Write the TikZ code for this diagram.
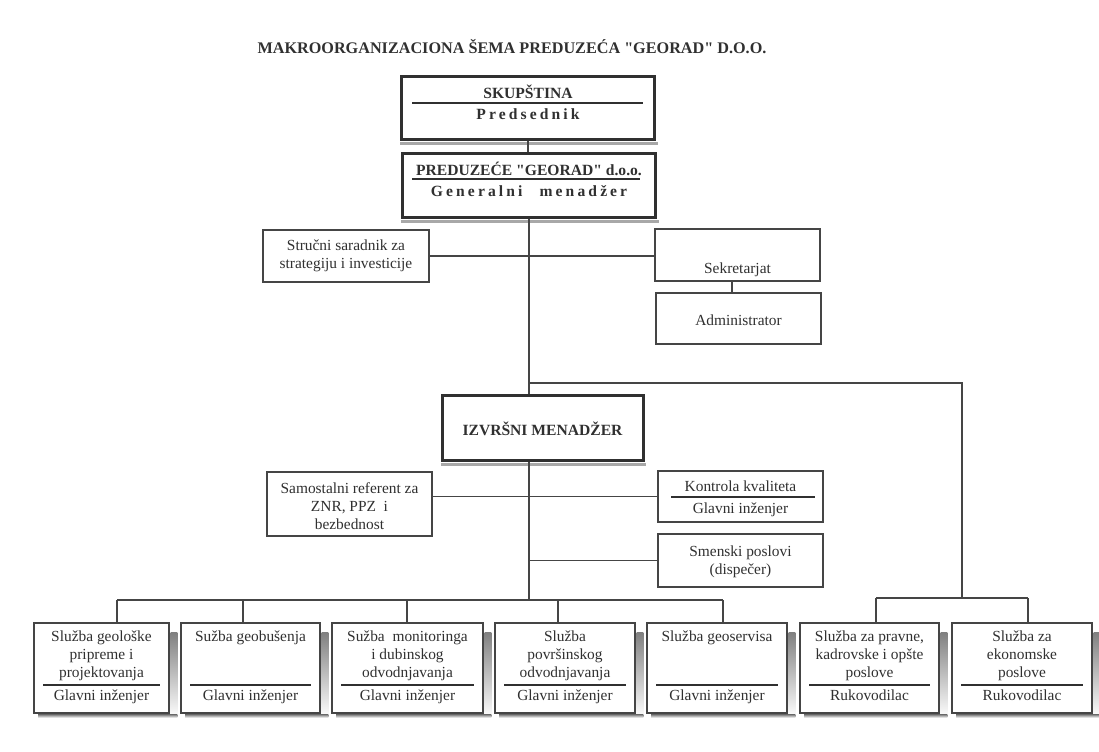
\documentclass[tikz,border=0pt]{standalone}
\usepackage{fontspec}
\setmainfont{Liberation Serif}
\newfontfamily\spacedfont[LetterSpace=20]{Liberation Serif}
\newfontfamily\qfont{Liberation Serif}
\newcommand{\dq}{{\qfont\bfseries"}}
\usetikzlibrary{calc}
\definecolor{ink}{HTML}{303030}
\definecolor{linec}{HTML}{454545}
\definecolor{shade}{HTML}{D3CDD8}
\definecolor{shadetop}{HTML}{A8A8A8}
\begin{document}
\begin{tikzpicture}[x=0.5pt,y=-0.5pt,
  every node/.style={text=ink},
  conn/.style={draw=linec, line width=0.6pt},
  thickbox/.style={draw=ink, line width=1.5pt, fill=white, inner sep=0pt},
  thinbox/.style={draw=linec, line width=0.75pt, fill=white, inner sep=0pt, minimum width=82.5pt},
  unitbox/.style={draw=linec, line width=0.8pt, fill=white, inner sep=0pt, minimum height=45pt},
  txt/.style={font=\fontsize{7.7}{9}\selectfont, align=center, inner sep=0pt},
  one/.style={txt, text height=5.3pt, text depth=1.7pt},
  hd/.style={font=\bfseries\fontsize{7.8}{9}\selectfont, inner sep=0pt},
  sp/.style={font=\spacedfont\bfseries\fontsize{7.8}{9}\selectfont, inner sep=0pt},
  divider/.style={draw=ink, line width=1pt},
]
\useasboundingbox (0,0) rectangle (1099,751);

% title
\node[font=\bfseries\fontsize{8.1}{9}\selectfont, inner sep=0pt, anchor=base] (title) at (512,53)
  {MAKROORGANIZACIONA ŠEMA PREDUZEĆA \dq GEORAD\dq{} D.O.O.};

% top boxes
\node[thickbox, minimum width=126.5pt, minimum height=31.5pt] (skup) at (528,107.5) {};
\node[hd, anchor=base] (skupt) at (528,98) {SKUPŠTINA};
\node[sp, anchor=base] (pres) at (528,119) {Predsednik};
\draw[divider] (412,102.7) -- (643,102.7);

\node[thickbox, minimum width=126.5pt, minimum height=32pt] (pred) at (529,185) {};
\node[hd, anchor=base] (predt) at (529,175) {PREDUZEĆE \dq GEORAD\dq{} d.o.o.};
\node[sp, anchor=base] (gm) at (529,196) {Generalni\hspace{5pt} menadž\hspace{1.5pt}er};
\draw[divider] (412,179) -- (640,179);

\foreach \n in {skup,pred}
  \fill[shadetop] ([yshift=-0.75pt]\n.south west) rectangle ([xshift=0.75pt,yshift=-2.2pt]\n.south east);

% staff boxes
\node[thinbox, minimum width=83pt, minimum height=26pt, txt] (strucni) at (346,256)
  {Stručni saradnik za\\strategiju i investicije};
\node[thinbox, minimum height=26pt] (sek) at (737.5,255) {};
\node[one] (sekt) at (737.5,270) {Sekretarjat};
\node[thinbox, minimum height=25.5pt] (adm) at (738.5,318.5) {};
\node[one] (admt) at (738.5,322) {Administrator};

% executive
\node[thickbox, minimum width=100.5pt, minimum height=32.5pt] (izv) at (542.5,427.5) {};
\node[hd, anchor=base] (izvt) at (542.5,435) {IZVRŠNI MENADŽER};
\fill[shadetop] ([yshift=-0.75pt]izv.south west) rectangle ([xshift=0.75pt,yshift=-2pt]izv.south east);

\node[thinbox, minimum height=32pt] (sam) at (349.5,504) {};
\node[txt] (samt) at (349.5,506) {Samostalni referent za\\ZNR, PPZ\ \ i\\bezbednost};

\node[thinbox, minimum height=25.5pt] (kon) at (740.5,496.5) {};
\node[one] (kont) at (740.5,488.3) {Kontrola kvaliteta};
\node[one] (kong) at (740.5,510) {Glavni inženjer};
\draw[divider] (671,496.7) -- (815,496.7);

\node[thinbox, minimum height=26.5pt] (smen) at (740.5,560.5) {};
\node[txt] (sment) at (740.5,562) {Smenski poslovi\\(dispečer)};

% unit boxes
\node[unitbox, minimum width=67.5pt] (b1) at (101.5,668) {};
\node[unitbox, minimum width=69.5pt] (b2) at (250.5,668) {};
\node[unitbox, minimum width=75.5pt] (b3) at (407.5,668) {};
\node[unitbox, minimum width=70pt] (b4) at (565,668) {};
\node[unitbox, minimum width=70pt] (b5) at (717,668) {};
\node[unitbox, minimum width=69.5pt] (b6) at (869.5,668) {};
\node[unitbox, minimum width=70pt] (b7) at (1022,668) {};

\foreach \n in {b1,b2,b3,b4,b5,b6,b7}{
  \fill[shade] ([xshift=0.4pt,yshift=-5pt]\n.north east) rectangle ([xshift=3.8pt,yshift=-2pt]\n.south east);
  \fill[shade] ([xshift=2.5pt,yshift=-0.4pt]\n.south west) rectangle ([xshift=3.8pt,yshift=-2pt]\n.south east);
}
\foreach \l/\r in {34/169,181/320,332/483,495/635,647/787,800/939,952/1092}
  \draw[divider] (\l+9,685) -- (\r-9,685);

\node[txt] (b1t) at (101.5,656) {Služba geološke\\pripreme i\\projektovanja};
\node[one] (b2t) at (250.5,638) {Sužba geobušenja};
\node[txt] (b3t) at (407.5,656) {Sužba\ \ monitoringa\\i dubinskog\\odvodnjavanja};
\node[txt] (b4t) at (565,656) {Služba\\površinskog\\odvodnjavanja};
\node[one] (b5t) at (717,638) {Služba geoservisa};
\node[txt] (b6t) at (869.5,656) {Služba za pravne,\\kadrovske i opšte\\poslove};
\node[txt] (b7t) at (1022,656) {Služba za\\ekonomske\\poslove};

\node[one] (b1g) at (101.5,697) {Glavni inženjer};
\node[one] (b2g) at (250.5,697) {Glavni inženjer};
\node[one] (b3g) at (407.5,697) {Glavni inženjer};
\node[one] (b4g) at (565,697) {Glavni inženjer};
\node[one] (b5g) at (717,697) {Glavni inženjer};
\node[one] (b6g) at (869.5,697) {Rukovodilac};
\node[one] (b7g) at (1022,697) {Rukovodilac};

% connectors
\coordinate (j1) at (529,383);
\coordinate (tr) at (962,383);
\coordinate (rb) at (962,598);
\coordinate (r6) at (876,598);
\coordinate (r7) at (1028,598);
\coordinate (jb) at (529,600);
\coordinate (d1) at (117,600);
\coordinate (d2) at (243,600);
\coordinate (d3) at (407,600);
\coordinate (d4) at (558,600);
\coordinate (d5) at (723,600);

\draw[conn] (skup.south) -- (skup.south |- pred.north);
\draw[conn] (pred.south) -- (j1) -- (j1 |- izv.north);
\draw[conn] (strucni.east) -- (strucni.east -| sek.west);
\draw[conn] ([xshift=-2.75pt]sek.south) -- ([xshift=-2.75pt]sek.south |- adm.north);
\draw[conn] (j1) -- (tr) -- (rb);
\draw[conn] (r6) -- (r7);
\draw[conn] (r6) -- (r6 |- b6.north);
\draw[conn] (r7) -- (r7 |- b7.north);
\draw[conn] (j1 |- izv.south) -- (jb);
\draw[conn] (kon.west -| sam.east) -- (kon.west);
\draw[conn] (j1 |- smen.west) -- (smen.west);
\draw[conn] (d1) -- (d5);
\foreach \d/\b in {d1/b1,d2/b2,d3/b3,d4/b4,d5/b5}
  \draw[conn] (\d) -- (\d |- \b.north);
\end{tikzpicture}
\end{document}
